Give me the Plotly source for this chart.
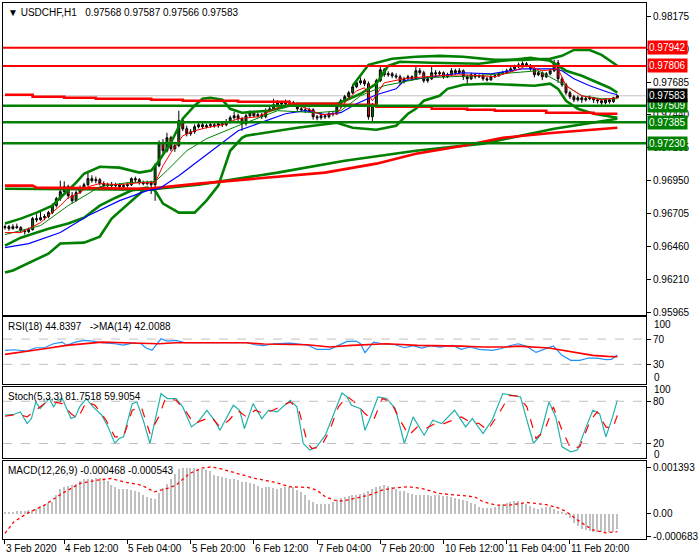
import plotly.graph_objects as go
from plotly.subplots import make_subplots

PT = 1e-5  # price values below are in points (0.00001)

# ---------------- candles (USDCHF H1) ----------------
open_pts = [96600,96607,96592,96607,96600,96577,96570,96585,96667,96659,
 96674,96682,96712,96764,96816,96868,96905,96838,96801,96861,
 96898,96920,96965,96950,96957,96928,96913,96920,96913,96920,
 96905,96913,96920,96965,96957,96935,96928,96935,96920,97062,
 97233,97173,97270,97188,97211,97397,97337,97300,97315,97352,
 97367,97352,97360,97367,97360,97375,97367,97390,97419,97434,
 97412,97375,97434,97457,97434,97442,97427,97472,97486,97516,
 97531,97524,97539,97531,97524,97486,97479,97472,97479,97427,
 97419,97434,97427,97449,97449,97501,97546,97576,97606,97650,
 97680,97695,97673,97427,97509,97695,97777,97740,97747,97732,
 97725,97688,97710,97725,97710,97770,97755,97695,97710,97755,
 97747,97755,97725,97740,97770,97755,97770,97725,97710,97740,
 97725,97732,97710,97702,97725,97732,97747,97755,97770,97784,
 97799,97814,97822,97807,97784,97740,97755,97725,97747,97770,
 97829,97710,97665,97606,97576,97553,97568,97553,97561,97568,
 97553,97546,97531,97553,97539,97568]
high_pts = [96622,96620,96625,96630,96610,96590,96600,96680,96700,96727,
 96700,96725,96780,96830,96950,96945,96920,96865,96875,96915,
 96935,97024,96990,96980,96970,96945,96935,96940,96935,96930,
 96925,96935,96975,96980,96970,96950,96950,96950,97080,97250,
 97260,97307,97285,97240,97472,97420,97360,97335,97370,97385,
 97380,97375,97390,97380,97395,97390,97410,97435,97465,97450,
 97425,97450,97475,97470,97460,97455,97490,97505,97561,97550,
 97545,97555,97550,97545,97535,97500,97495,97495,97490,97440,
 97450,97445,97465,97470,97515,97560,97590,97620,97665,97700,
 97720,97710,97690,97530,97710,97807,97790,97765,97760,97750,
 97740,97725,97740,97735,97807,97790,97770,97725,97800,97775,
 97770,97765,97755,97790,97785,97790,97780,97740,97755,97750,
 97745,97745,97725,97740,97745,97760,97770,97785,97800,97815,
 97830,97840,97835,97820,97795,97770,97765,97760,97780,97852,
 97850,97725,97680,97620,97590,97585,97580,97575,97585,97575,
 97565,97560,97565,97560,97575,97587]
low_pts = [96585,96577,96585,96590,96562,96548,96560,96578,96640,96650,
 96655,96670,96700,96750,96800,96855,96815,96780,96795,96850,
 96885,96910,96935,96930,96915,96900,96900,96898,96900,96890,
 96890,96900,96910,96940,96920,96915,96915,96850,96800,97050,
 97150,97160,97170,97165,97200,97320,97280,97285,97300,97340,
 97335,97340,97345,97345,97345,97350,97355,97375,97405,97395,
 97322,97360,97420,97420,97420,97410,97415,97460,97475,97500,
 97510,97515,97520,97510,97470,97465,97455,97460,97405,97400,
 97405,97410,97415,97430,97440,97490,97530,97560,97595,97640,
 97665,97655,97405,97395,97500,97685,97725,97725,97715,97710,
 97665,97675,97700,97695,97700,97740,97680,97680,97700,97730,
 97735,97710,97715,97730,97740,97745,97700,97665,97700,97710,
 97715,97695,97690,97695,97715,97725,97740,97745,97760,97775,
 97790,97800,97795,97770,97720,97730,97700,97715,97735,97760,
 97680,97650,97590,97560,97535,97540,97530,97540,97550,97530,
 97525,97515,97520,97525,97530,97566]
close_pts = [96607,96592,96607,96600,96577,96570,96585,96667,96659,96674,
 96682,96712,96764,96816,96868,96905,96838,96801,96861,96898,
 96920,96965,96950,96957,96928,96913,96920,96913,96920,96905,
 96913,96920,96965,96957,96935,96928,96935,96920,97062,97233,
 97173,97270,97188,97211,97397,97337,97300,97315,97352,97367,
 97352,97360,97367,97360,97375,97367,97390,97419,97434,97412,
 97375,97434,97457,97434,97442,97427,97472,97486,97516,97531,
 97524,97539,97531,97524,97486,97479,97472,97479,97427,97419,
 97434,97427,97449,97449,97501,97546,97576,97606,97650,97680,
 97695,97673,97427,97509,97695,97777,97740,97747,97732,97725,
 97688,97710,97725,97710,97770,97755,97695,97710,97755,97747,
 97755,97725,97740,97770,97755,97770,97725,97710,97740,97725,
 97732,97710,97702,97725,97732,97747,97755,97770,97784,97799,
 97814,97822,97807,97784,97740,97755,97725,97747,97770,97829,
 97710,97665,97606,97576,97553,97568,97553,97561,97568,97553,
 97546,97531,97553,97539,97568,97583]
bars = list(range(len(close_pts)))

# ---------------- overlay lines (bar index, points) --------------
red_step_i = [0, 7, 15, 23, 37, 45, 59, 72, 84, 94, 108, 117, 124, 137, 149, 155]
red_step_p = [97591, 97576, 97568, 97561, 97553, 97546, 97539, 97524, 97516, 97501,
              97486, 97479, 97472, 97457, 97449, 97449]
red_rise_i = [0, 7, 8, 36, 49, 66, 81, 94, 104, 116, 126, 139, 155]
red_rise_p = [96913, 96913, 96898, 96890, 96928, 96972, 97010, 97077, 97151, 97211,
              97270, 97308, 97345]
green_rise_i = [0, 24, 36, 49, 69, 86, 104, 121, 139, 155]
green_rise_p = [96890, 96883, 96883, 96920, 97010, 97099, 97173, 97226, 97337, 97412]
wide_low_i = [0, 2, 11, 14, 20, 24, 27, 32, 35, 38]
wide_low_p = [96265, 96280, 96406, 96481, 96488, 96533, 96667, 96801, 96876, 96890]
band_up_i = [0, 4, 8, 12, 14, 18, 20, 24, 29, 34, 37, 39, 42, 45, 48, 50, 52, 55, 57, 60,
             67, 70, 74, 84, 86, 90, 94, 97, 100, 108, 120, 126, 133, 138, 142, 146, 150, 153, 155]
band_up_p = [96630, 96667, 96712, 96764, 96823, 96935, 97002, 97054, 97047, 97010,
             97025, 97099, 97233, 97412, 97509, 97561, 97568, 97553, 97486, 97457,
             97472, 97494, 97524, 97524, 97546, 97598, 97673, 97807, 97837, 97829,
             97822, 97844, 97866, 97844, 97770, 97732, 97680, 97643, 97606]
band_lo_i = [0, 4, 11, 16, 20, 24, 28, 32, 36, 38, 40, 44, 48, 51, 54, 57, 60, 61, 74, 84,
             88, 94, 99, 102, 104, 106, 110, 112, 116, 122, 134, 138, 140, 142, 145, 149, 155]
band_lo_p = [96466, 96525, 96592, 96630, 96674, 96764, 96823, 96876, 96898, 96876,
             96779, 96712, 96712, 96801, 96913, 97173, 97270, 97285, 97345, 97382,
             97345, 97330, 97360, 97449, 97486, 97546, 97583, 97635, 97665, 97673,
             97658, 97673, 97635, 97546, 97486, 97449, 97419]
wide_up_i = [88, 92, 98, 104, 110, 116, 124, 131, 138, 141, 144, 148, 151, 155]
wide_up_p = [97658, 97814, 97859, 97874, 97881, 97874, 97851, 97851, 97859, 97881,
             97925, 97925, 97888, 97807]
ma_fast_i = [0, 4, 6, 9, 11, 14, 16, 19, 21, 24, 29, 34, 38, 40, 42, 45, 48, 51, 55, 59,
             64, 69, 72, 76, 80, 84, 86, 89, 91, 93, 96, 101, 109, 116, 124, 129, 132,
             136, 140, 142, 146, 151, 155]
ma_fast_p = [96563, 96563, 96592, 96637, 96689, 96764, 96823, 96861, 96905, 96928,
             96920, 96935, 96935, 97062, 97159, 97285, 97322, 97345, 97367, 97412,
             97427, 97494, 97524, 97494, 97442, 97449, 97531, 97620, 97643, 97546,
             97680, 97710, 97732, 97740, 97725, 97770, 97807, 97770, 97784, 97658,
             97583, 97553, 97568]
ma_slow_i = [0, 6, 14, 21, 29, 36, 39, 44, 49, 54, 59, 64, 71, 76, 81, 85, 89, 94, 99,
             101, 110, 116, 123, 131, 139, 141, 144, 148, 153, 155]
ma_slow_p = [96451, 96481, 96563, 96689, 96801, 96876, 96890, 96987, 97099, 97211,
             97322, 97375, 97449, 97472, 97442, 97457, 97524, 97591, 97635, 97695,
             97732, 97755, 97747, 97784, 97784, 97770, 97710, 97658, 97606, 97591]
ma_mid_i = [0, 9, 16, 24, 31, 38, 41, 46, 51, 59, 69, 79, 85, 90, 96, 106, 119, 129,
            135, 142, 146, 151, 155]
ma_mid_p = [96548, 96615, 96764, 96905, 96935, 96943, 97025, 97173, 97263, 97360,
            97472, 97457, 97472, 97583, 97658, 97717, 97732, 97755, 97770, 97658,
            97583, 97561, 97561]

# horizontal levels
res_levels = [0.97942, 0.97806]
sup_levels = [0.97509, 0.97385, 0.97230]
bid_price = 0.97583
price_ticks = [0.95965, 0.96210, 0.96460, 0.96705, 0.96950, 0.97195, 0.97440, 0.97685, 0.97930, 0.98175]

# ---------------- RSI(18) and MA(14) ----------------
rsi_i = [0, 2.3, 5.6, 7.8, 10.0, 12.3, 14.5, 15.6, 17.8, 20.0, 22.3, 24.5, 27.8, 30.0, 32.2,
         34.5, 35.6, 37.2, 39.5, 41.1, 43.3, 45.6, 48.9, 52.2, 56.7, 59.4, 61.1, 63.3, 65.5,
         67.8, 72.2, 76.6, 78.9, 82.2, 84.4, 86.6, 88.9, 90.0, 91.1, 93.3, 95.5, 98.8, 101.1,
         103.3, 105.5, 107.7, 110.0, 113.3, 115.5, 117.7, 120.0, 123.3, 125.5, 127.7, 129.9,
         132.1, 134.4, 137.7, 138.8, 141.0, 143.2, 145.5, 147.7, 149.9, 152.1, 153.5, 155]
rsi_v = [52.1, 53.1, 51.0, 56.3, 56.3, 62.6, 65.2, 60.0, 65.2, 67.9, 66.8, 64.2, 62.6, 60.5, 63.7,
         62.6, 56.3, 52.1, 70.5, 66.8, 67.9, 64.2, 64.2, 64.2, 64.2, 63.7, 64.2, 61.0, 59.5,
         62.6, 63.7, 60.5, 53.7, 53.7, 60.0, 66.3, 66.8, 62.6, 48.4, 65.2, 62.6, 61.0, 56.3,
         59.5, 55.8, 59.5, 57.4, 60.0, 53.7, 57.4, 53.7, 52.1, 54.7, 59.5, 62.6,
         58.4, 48.9, 57.4, 59.0, 44.2, 36.3, 36.3, 40.0, 40.0, 37.4, 38.0, 44.8]
rsi_ma_i = [0, 4.5, 10, 15.6, 21.1, 24.5, 32.2, 38.9, 43.3, 54.4, 61.1, 65.5, 76.6, 82.2,
            87.7, 96.6, 104.4, 115.5, 121, 126.6, 129.9, 137.7, 143.2, 148.8, 152.5, 155]
rsi_ma_v = [45.8, 49.5, 54.7, 60.0, 63.7, 65.2, 63.7, 62.6, 64.2, 64.2, 64.2, 62.1, 61.0, 57.4,
            60.0, 62.6, 60.0, 58.9, 57.4, 57.4, 58.9, 55.8, 49.5, 44.2, 42.6, 42.0]
rsi_levels = [70, 30]

# ---------------- Stochastic(5,3,3) ----------------
stk_i = [0, 2.3, 3.9, 5.6, 6.7, 7.8, 8.9, 10.0, 11.2, 12.3, 13.4, 14.5, 15.6, 16.7, 17.8, 18.9,
         20.6, 22.3, 24.5, 26.1, 27.8, 28.9, 30.0, 32.2, 33.4, 35.0, 36.7, 39.5, 41.1, 43.3,
         45.0, 47.2, 48.9, 51.1, 53.3, 54.4, 57.8, 59.4, 60.6, 62.8, 65.0, 66.7, 68.9, 72.2,
         73.9, 75.5, 77.2, 78.9, 81.1, 83.3, 85.3, 86.6, 87.7, 90.0, 91.1, 92.2, 94.4, 96.6,
         98.8, 101.1, 103.3, 106.1, 108.3, 110.5, 112.2, 113.8, 116.6, 118.3, 121.0, 123.3,
         126.0, 128.3, 130.5, 132.1, 133.8, 135.5, 137.7, 139.4, 141.0, 143.2, 144.9, 147.1,
         148.8, 150.5, 152.1, 153.8, 155]
stk_v = [60.2, 61.6, 64.9, 48.3, 55.4, 79.1, 69.6, 76.7, 83.8, 72.0, 81.4, 83.8, 69.6, 55.4, 57.8,
         72.0, 83.8, 72.0, 60.2, 43.6, 20.0, 27.1, 29.4, 76.7, 79.1, 53.1, 20.0, 90.9, 83.8, 83.8,
         72.0, 43.6, 50.7, 67.2, 50.7, 38.9, 74.3, 67.2, 41.3, 76.7, 55.4, 67.2, 64.9, 81.4,
         72.0, 20.0, 10.6, 15.3, 31.8, 62.5, 91.8, 86.1, 74.3, 69.6, 38.9, 53.1, 86.1, 83.8,
         69.6, 20.0, 57.8, 31.8, 53.1, 48.3, 57.8, 67.2, 43.6, 55.4, 34.2, 53.1,
         90.9, 88.5, 86.1, 53.1, 20.0, 31.8, 79.1, 57.8, 15.3, 8.2, 10.6, 43.6,
         67.2, 62.5, 29.4, 57.8, 81.75]
std_i = [0, 3.4, 5.6, 7.8, 10.0, 12.3, 14.5, 16.7, 18.4, 20.6, 22.8, 25.6, 27.8, 30.0, 32.2,
         34.5, 36.7, 38.9, 40.6, 43.3, 45.6, 47.8, 50.0, 52.2, 54.4, 56.7, 58.9, 61.1, 63.3,
         65.5, 67.8, 72.2, 74.4, 76.6, 77.7, 80.0, 82.2, 84.4, 86.6, 88.9, 91.1, 93.3, 95.5,
         97.7, 100.0, 102.2, 104.4, 106.6, 108.8, 111.1, 113.3, 115.5, 117.7, 120.0, 122.2,
         125.5, 127.7, 129.9, 132.1, 134.4, 136.6, 138.8, 141.0, 143.2, 145.5, 148.2, 149.9,
         152.1, 153.8, 155]
std_v = [58.7, 61.6, 57.8, 67.2, 76.7, 79.1, 76.7, 62.5, 55.4, 79.1, 74.3, 53.1, 29.4, 29.4, 67.2,
         72.0, 34.2, 57.8, 83.8, 81.4, 67.2, 48.3, 53.1, 57.8, 43.6, 53.1, 67.2, 57.8, 67.2,
         62.5, 67.2, 79.1, 67.2, 20.0, 12.9, 15.3, 38.9, 72.0, 87.1, 76.7, 62.5, 53.1, 83.8,
         79.1, 53.1, 31.8, 43.6, 41.3, 48.3, 48.3, 53.1, 57.8, 50.7, 48.3, 38.9,
         67.2, 88.5, 87.1, 72.0, 27.1, 38.9, 72.0, 38.9, 12.9, 15.3, 53.1, 64.9,
         43.6, 41.3, 59.9]
stoch_levels = [80, 20]

# ---------------- MACD(12,26,9) (units of 1e-6) ----------------
macd_u = [40, 50, 61, 81, 91, 101, 111, 131, 161, 242,
          282, 323, 363, 565, 767, 807, 837, 868, 918, 989,
          1049, 1059, 1069, 1080, 1090, 1049, 1009, 868, 807, 767,
          767, 747, 737, 706, 666, 585, 515, 484, 464, 646,
          787, 918, 1069, 1221, 1360, 1393, 1390, 1385, 1378, 1370,
          1365, 1325, 1295, 1190, 1140, 1110, 1090, 1070, 1060, 1020,
          980, 970, 930, 910, 850, 800, 810, 820, 790, 770,
          800, 820, 820, 810, 740, 670, 570, 435, 365, 305,
          295, 285, 305, 365, 435, 485, 515, 545, 565, 585,
          595, 645, 685, 765, 830, 850, 870, 860, 820, 765,
          695, 685, 645, 605, 585, 565, 565, 565, 555, 565,
          565, 555, 535, 515, 495, 465, 435, 385, 345, 285,
          210, 190, 180, 190, 210, 240, 285, 325, 365, 395,
          405, 345, 285, 240, 180, 160, 180, 200, 210, 160,
          100, 40, -20, -140, -290, -365, -445, -495, -525, -545,
          -565, -565, -565, -555, -535, -468]
sig_i = [0, 2.3, 5.6, 10, 14.5, 18.9, 23.4, 26.7, 30, 34.5, 37.8, 41.1, 43.3, 46.7, 50, 52.2,
         54.4, 58.9, 63.3, 67.8, 72.2, 76.6, 78.9, 81.1, 83.3, 85.5, 87.7, 92.2, 95.5, 98.8,
         102.2, 105.5, 110, 115.5, 118.8, 121, 124.4, 127.7, 132.1, 136.6, 139.9, 142.1, 145.5,
         148.8, 152.1, 155]
sig_u = [-595, -242, 10, 262, 616, 918, 1019, 1070, 969, 868, 666, 767, 868, 1221, 1392, 1420,
         1372, 1221, 1070, 969, 817, 797, 716, 515, 414, 383, 444, 565, 716, 787,
         817, 767, 615, 565, 515, 363, 262, 262, 343, 282, 182, 61, -242,
         -494, -580, -543]
macd_ticks = [-0.000683, 0.0, 0.001393]
macd_tick_text = ['-0.000683', '0.00', '0.001393']

# ---------------- time axis ----------------
time_tick_i = [0, 15, 31, 47, 63, 79, 95, 111, 127, 143]
time_tick_text = ['3 Feb 2020', '4 Feb 12:00', '5 Feb 04:00', '5 Feb 20:00', '6 Feb 12:00',
                  '7 Feb 04:00', '7 Feb 20:00', '10 Feb 12:00', '11 Feb 04:00', '11 Feb 20:00']

def px(lst):
    return [v * PT for v in lst]

FONT = 'Liberation Sans'
RED = '#ff0000'
GREEN = '#008000'

fig = make_subplots(rows=4, cols=1, shared_xaxes=True, vertical_spacing=0.0)

# main panel
fig.add_trace(go.Candlestick(x=bars, open=px(open_pts), high=px(high_pts), low=px(low_pts),
                             close=px(close_pts),
                             increasing=dict(line=dict(color='black', width=1), fillcolor=GREEN),
                             decreasing=dict(line=dict(color='black', width=1), fillcolor=RED),
                             whiskerwidth=0, hoverinfo='skip'), row=1, col=1)

def line(xs, ys, color, width, dash='solid', shape='linear', row=1):
    fig.add_trace(go.Scatter(x=xs, y=ys, mode='lines',
                             line=dict(color=color, width=width, dash=dash, shape=shape),
                             hoverinfo='skip'), row=row, col=1)

line(wide_low_i, px(wide_low_p), GREEN, 2.6)
line(band_up_i, px(band_up_p), GREEN, 2.6)
line(band_lo_i, px(band_lo_p), GREEN, 2.6)
line(wide_up_i, px(wide_up_p), GREEN, 2.6)
line(green_rise_i, px(green_rise_p), GREEN, 2.6)
line(red_rise_i, px(red_rise_p), RED, 2.6)
line(red_step_i, px(red_step_p), RED, 2.6, shape='hv')
line(ma_slow_i, px(ma_slow_p), '#0000ff', 1.2)
line(ma_mid_i, px(ma_mid_p), GREEN, 1)
line(ma_fast_i, px(ma_fast_p), RED, 1)

# RSI
line(rsi_i, rsi_v, '#1e90ff', 1.2, row=2)
line(rsi_ma_i, rsi_ma_v, RED, 1.6, row=2)
# Stoch
line(stk_i, stk_v, '#20b2aa', 1.2, row=3)
line(std_i, std_v, RED, 1.2, dash='dash', row=3)
# MACD
fig.add_trace(go.Bar(x=bars, y=[v * 1e-6 for v in macd_u], marker=dict(color='#c0c0c0', line=dict(width=0)),
                     width=0.35, hoverinfo='skip'), row=4, col=1)
line(sig_i, [v * 1e-6 for v in sig_u], RED, 1.3, dash='dot', row=4)

# level lines
for lv in res_levels:
    fig.add_hline(y=lv, line=dict(color=RED, width=2), row=1, col=1)
for lv in sup_levels:
    fig.add_hline(y=lv, line=dict(color=GREEN, width=2.5), row=1, col=1)
fig.add_hline(y=bid_price, line=dict(color='#c0c0c0', width=1), layer='below', row=1, col=1)
for lv in rsi_levels:
    fig.add_hline(y=lv, line=dict(color='#c0c0c0', width=1, dash='dash'), row=2, col=1)
for lv in stoch_levels:
    fig.add_hline(y=lv, line=dict(color='#c0c0c0', width=1, dash='dash'), row=3, col=1)

# axes
xcommon = dict(range=[-0.5, 162.25], showgrid=False, zeroline=False, showline=True, mirror=True,
               linecolor='black', linewidth=1, showticklabels=False, ticks='')
for k in ['xaxis', 'xaxis2', 'xaxis3']:
    fig.update_layout({k: xcommon})
fig.update_layout(xaxis_rangeslider_visible=False)
fig.update_layout(xaxis4=dict(xcommon, ticks='outside', ticklen=4, tickcolor='black',
                              tickvals=time_tick_i))

ycommon = dict(side='right', showgrid=False, zeroline=False, showline=True, mirror=True,
               linecolor='black', linewidth=1, ticks='outside', ticklen=4, tickcolor='black',
               tickfont=dict(family=FONT, size=10, color='black'))
fig.update_layout(
    yaxis=dict(ycommon, domain=[0.4171, 1.0], range=[0.95945, 0.98275], tickvals=price_ticks,
               ticktext=['%.5f' % v for v in price_ticks]),
    yaxis2=dict(ycommon, domain=[0.2886, 0.4140], range=[-1.6, 104.8], tickvals=[30, 70]),
    yaxis3=dict(ycommon, domain=[0.1514, 0.2844], range=[-0.4, 100.9], tickvals=[20, 80]),
    yaxis4=dict(ycommon, domain=[0.0, 0.1458], range=[-0.000767, 0.001605], tickvals=macd_ticks,
                ticktext=macd_tick_text),
)

# price tags on the right
for lv in res_levels:
    fig.add_annotation(x=1, xref='paper', xanchor='left', xshift=1, y=lv, yref='y',
                       text='%.5f' % lv, showarrow=False, bgcolor=RED, borderpad=1,
                       font=dict(family=FONT, size=10, color='white'))
for lv in sup_levels:
    fig.add_annotation(x=1, xref='paper', xanchor='left', xshift=1, y=lv, yref='y',
                       text='%.5f' % lv, showarrow=False, bgcolor=GREEN, borderpad=1,
                       font=dict(family=FONT, size=10, color='white'))
fig.add_annotation(x=1, xref='paper', xanchor='left', xshift=1, y=bid_price, yref='y',
                   text='%.5f' % bid_price, showarrow=False, bgcolor='black', borderpad=1,
                   font=dict(family=FONT, size=10, color='white'))

# scale end labels clamped inside their panels (as the terminal draws them)
def end_label(text, yref, ypos):
    fig.add_annotation(x=1, xref='paper', xanchor='left', xshift=6, y=ypos, yref=yref,
                       yanchor='middle', text=text, showarrow=False,
                       font=dict(family=FONT, size=10, color='black'))

end_label('100', 'y2 domain', 0.89)
end_label('0', 'y2 domain', 0.10)
end_label('100', 'y3 domain', 0.962)
end_label('0', 'y3 domain', 0.05)

# panel titles
def title(text, yref):
    fig.add_annotation(x=0, xref='paper', xanchor='left', xshift=3, y=1, yref=yref,
                       yanchor='top', yshift=-2, text=text, showarrow=False,
                       font=dict(family=FONT, size=10, color='black'))

title('\u25BC USDCHF,H1\u00a0\u00a0 0.97568 0.97587 0.97566 0.97583', 'y domain')
title('RSI(18) 44.8397\u00a0\u00a0 ->MA(14) 42.0088', 'y2 domain')
title('Stoch(5,3,3) 81.7518 59.9054', 'y3 domain')
title('MACD(12,26,9) -0.000468 -0.000543', 'y4 domain')

# time labels
for ti, tt in zip(time_tick_i, time_tick_text):
    fig.add_annotation(x=ti, xref='x4', xanchor='left', xshift=-1, y=-0.0186, yref='paper',
                       yanchor='middle', text=tt, showarrow=False,
                       font=dict(family=FONT, size=10, color='black'))

fig.update_layout(width=700, height=560, margin=dict(l=3, r=46, t=2, b=21),
                  paper_bgcolor='white', plot_bgcolor='white', showlegend=False,
                  bargap=0, font=dict(family=FONT, size=10, color='black'))

fig.write_html('out.html', config={'displayModeBar': False},
               post_script="document.body.style.margin='0';document.body.style.padding='0';")
